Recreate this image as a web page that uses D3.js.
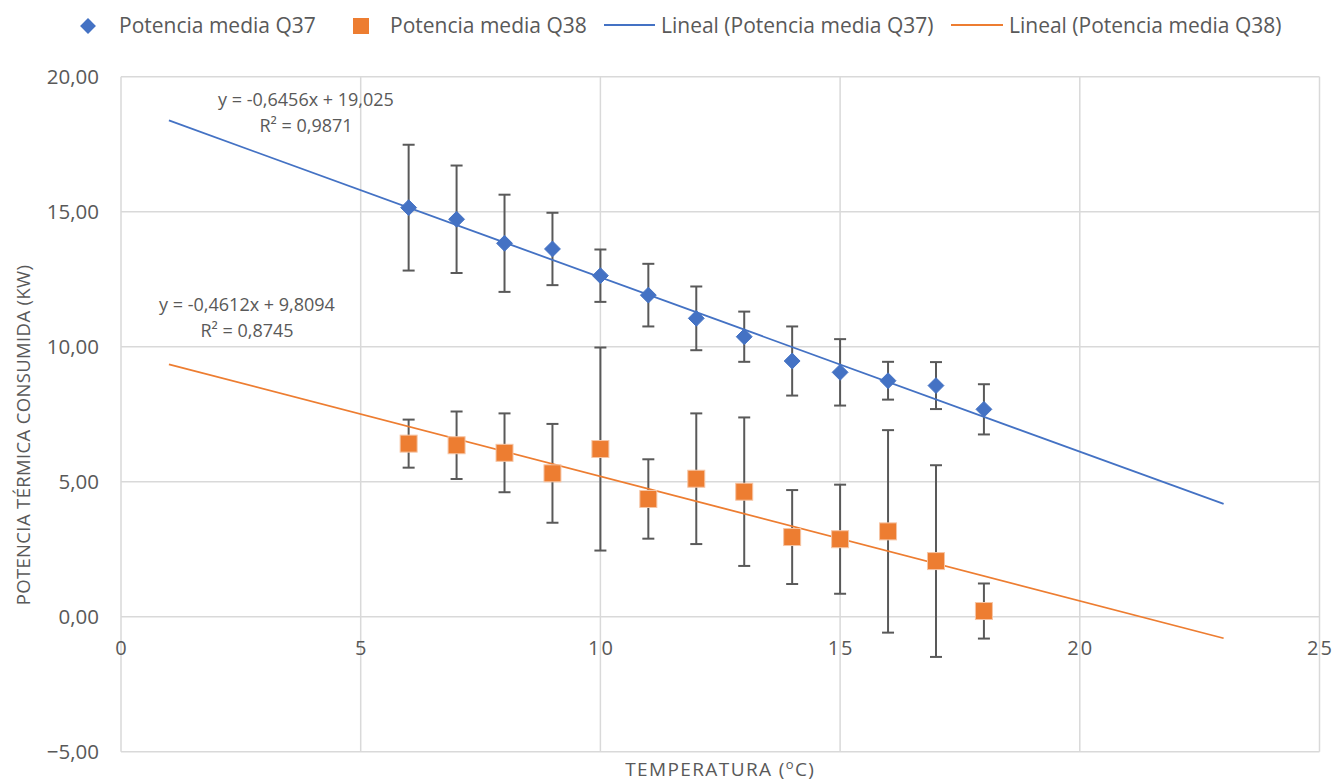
<!DOCTYPE html>
<html>
<head>
<meta charset="utf-8">
<style>
  body { margin: 0; background: #fff; }
  svg text { font-family: "Open Sans", sans-serif; fill: #595959; }
</style>
</head>
<body>
<svg id="chart"></svg>
<script src="https://cdn.jsdelivr.net/npm/d3@7"></script>
<script>
    // data
    var temps = [6, 7, 8, 9, 10, 11, 12, 13, 14, 15, 16, 17, 18];
    var q37 = [15.15, 14.72, 13.83, 13.62, 12.63, 11.91, 11.05, 10.37, 9.47, 9.05, 8.74, 8.56, 7.68];
    var q37Err = [2.33, 1.99, 1.80, 1.34, 0.97, 1.16, 1.18, 0.93, 1.28, 1.23, 0.70, 0.87, 0.93];
    var q38 = [6.41, 6.35, 6.07, 5.31, 6.21, 4.36, 5.11, 4.63, 2.95, 2.87, 3.16, 2.06, 0.21];
    var q38Err = [0.89, 1.25, 1.46, 1.83, 3.76, 1.47, 2.42, 2.75, 1.74, 2.02, 3.75, 3.55, 1.02];
    var seriesNames = ["Potencia media Q37", "Potencia media Q38"];
    var trendSlopes = [-0.6456, -0.4612];
    var trendIntercepts = [19.025, 9.8094];
    var trendRange = [1, 23];
    var trendLabels = [["y = -0,6456x + 19,025", "R\u00b2 = 0,9871"], ["y = -0,4612x + 9,8094", "R\u00b2 = 0,8745"]];
    var xTicks = [0, 5, 10, 15, 20, 25];
    var yTicks = [-5, 0, 5, 10, 15, 20];

    var width = 1333;
    var height = 783;
    var margin = {top: 76.7, right: 13.5, bottom: 31.3, left: 121};
    var colors = ["#4472C4", "#ED7D31"];

    var locale = d3.formatLocale({decimal: ",", thousands: ".", grouping: [3], currency: ["", "€"]});
    var fmt = locale.format(".2f");

    var x = d3.scaleLinear().domain([0, 25]).range([margin.left, width - margin.right]);
    var y = d3.scaleLinear().domain([-5, 20]).range([height - margin.bottom, margin.top]);

    const svg = d3.select("svg#chart")
      .attr("width", width)
      .attr("height", height)
      .attr("viewBox", [0, 0, width, height]);

    // grid
    svg.append("g")
      .selectAll("line")
      .data(xTicks)
      .join("line")
        .attr("x1", d => x(d)).attr("x2", d => x(d))
        .attr("y1", y(-5)).attr("y2", y(20))
        .attr("stroke", "#d9d9d9").attr("stroke-width", 1.5);
    svg.append("g")
      .selectAll("line")
      .data(yTicks)
      .join("line")
        .attr("y1", d => y(d)).attr("y2", d => y(d))
        .attr("x1", x(0)).attr("x2", x(25))
        .attr("stroke", "#d9d9d9").attr("stroke-width", 1.5);

    // tick labels
    svg.append("g")
      .selectAll("text")
      .data(yTicks)
      .join("text")
        .attr("x", 99)
        .attr("y", d => y(d))
        .attr("dy", "0.35em")
        .attr("text-anchor", "end")
        .style("font-size", "20.5px")
        .text(d => fmt(d));
    svg.append("g")
      .selectAll("text")
      .data(xTicks)
      .join("text")
        .attr("x", d => x(d) + 1)
        .attr("y", 655)
        .attr("text-anchor", "middle")
        .style("font-size", "20px")
        .style("letter-spacing", "2px")
        .text(d => d);

    // axis titles
    svg.append("text")
      .attr("transform", "translate(30,435) rotate(-90)")
      .attr("text-anchor", "middle")
      .style("font-size", "18.5px")
      .style("letter-spacing", "0.35px")
      .text("POTENCIA TÉRMICA CONSUMIDA (KW)");
    var xt = svg.append("text")
      .attr("x", (x(0) + x(25)) / 2)
      .attr("y", 776)
      .attr("text-anchor", "middle")
      .style("font-size", "19px")
      .style("letter-spacing", "1.4px");
    xt.append("tspan").text("TEMPERATURA (");
    xt.append("tspan").attr("dy", -7).style("font-size", "13px").text("o");
    xt.append("tspan").attr("dy", 7).text("C)");

    var series = [
      temps.map((t, i) => ({x: t, y: q37[i], e: q37Err[i]})),
      temps.map((t, i) => ({x: t, y: q38[i], e: q38Err[i]}))
    ];

    // error bars
    series.forEach(s => {
      var g = svg.append("g").attr("stroke", "#595959").attr("stroke-width", 2);
      g.selectAll("line.stem").data(s).join("line").attr("class", "stem")
        .attr("x1", d => x(d.x)).attr("x2", d => x(d.x))
        .attr("y1", d => y(d.y + d.e)).attr("y2", d => y(d.y - d.e));
      g.selectAll("line.top").data(s).join("line").attr("class", "top")
        .attr("x1", d => x(d.x) - 6).attr("x2", d => x(d.x) + 6)
        .attr("y1", d => y(d.y + d.e)).attr("y2", d => y(d.y + d.e));
      g.selectAll("line.bot").data(s).join("line").attr("class", "bot")
        .attr("x1", d => x(d.x) - 6).attr("x2", d => x(d.x) + 6)
        .attr("y1", d => y(d.y - d.e)).attr("y2", d => y(d.y - d.e));
    });

    // trendlines
    var line = d3.line().x(d => x(d[0])).y(d => y(d[1]));
    trendSlopes.forEach((m, i) => {
      svg.append("path")
        .datum(trendRange.map(t => [t, m * t + trendIntercepts[i]]))
        .attr("fill", "none")
        .attr("stroke", colors[i])
        .attr("stroke-width", 1.8)
        .attr("d", line);
    });

    // markers
    var diamond = d3.symbol().type(d3.symbolDiamond2).size(160);
    svg.append("g").selectAll("path").data(series[0]).join("path")
      .attr("transform", d => `translate(${x(d.x)},${y(d.y)})`)
      .attr("d", diamond)
      .attr("fill", colors[0])
      .attr("stroke", colors[0]).attr("stroke-width", 1);
    svg.append("g").selectAll("rect").data(series[1]).join("rect")
      .attr("x", d => x(d.x) - 8.5).attr("y", d => y(d.y) - 8.5)
      .attr("width", 17).attr("height", 17)
      .attr("fill", colors[1])
      .attr("stroke", "#f6c5a5").attr("stroke-width", 1);

    // trendline labels
    var labelPos = [[306, 100], [247, 305]];
    trendLabels.forEach((lines, i) => {
      svg.append("g").selectAll("text").data(lines).join("text")
        .attr("x", labelPos[i][0])
        .attr("y", (d, j) => labelPos[i][1] + j * 26)
        .attr("dy", "0.35em")
        .attr("text-anchor", "middle")
        .style("font-size", "18px")
        .text(d => d);
    });

    // legend
    var lg = svg.append("g").style("font-size", "21px");
    lg.append("path").attr("transform", "translate(88,26)").attr("d", diamond).attr("fill", colors[0]);
    lg.append("text").attr("x", 119).attr("y", 26).attr("dy", "0.35em").text(seriesNames[0]);
    lg.append("rect").attr("x", 353).attr("y", 18).attr("width", 16).attr("height", 16).attr("fill", colors[1]);
    lg.append("text").attr("x", 390).attr("y", 26).attr("dy", "0.35em").text(seriesNames[1]);
    lg.append("line").attr("x1", 604).attr("x2", 655).attr("y1", 25).attr("y2", 25).attr("stroke", colors[0]).attr("stroke-width", 2);
    lg.append("text").attr("x", 661).attr("y", 26).attr("dy", "0.35em").text("Lineal (" + seriesNames[0] + ")");
    lg.append("line").attr("x1", 951).attr("x2", 1003).attr("y1", 25).attr("y2", 25).attr("stroke", colors[1]).attr("stroke-width", 2);
    lg.append("text").attr("x", 1009).attr("y", 26).attr("dy", "0.35em").text("Lineal (" + seriesNames[1] + ")");
</script>
</body>
</html>
